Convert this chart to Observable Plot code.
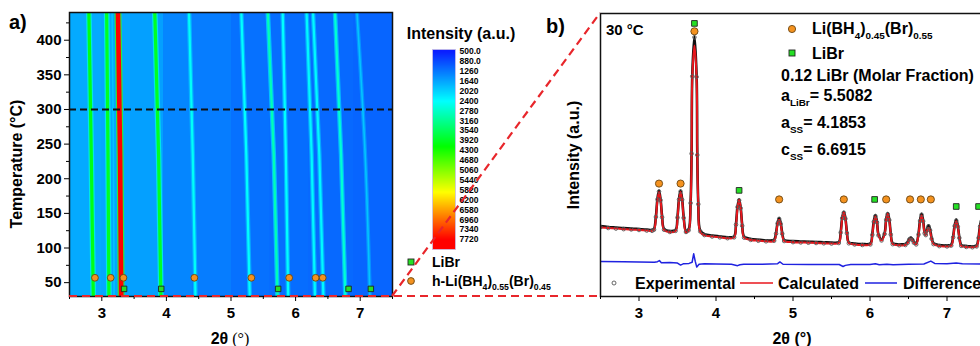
<!DOCTYPE html>
<html><head><meta charset="utf-8">
<script src="https://cdn.jsdelivr.net/npm/d3@7"></script>
<script src="https://cdn.jsdelivr.net/npm/@observablehq/plot@0.6"></script>
<style>
html,body{margin:0;padding:0;background:#fff;overflow:hidden;}
#fig{position:relative;width:980px;height:346px;overflow:hidden;background:#fff;}
#fig > svg{position:absolute;}
</style></head><body><div id="fig"></div><script>
// ================= DATA =================
// ---- panel a : in-situ SR-PXD heat map ----
const aXTicks = [3, 4, 5, 6, 7];
const aXMinor = [2.5, 3.5, 4.5, 5.5, 6.5, 7.5];
const aYTicks = [50, 100, 150, 200, 250, 300, 350, 400];
const aYMinor = [75, 125, 175, 225, 275, 325, 375, 425];
const bgEdges = [2.5, 3.0, 3.45, 3.95, 4.4, 5.0, 5.6, 6.2, 6.9, 7.5];
const bgIntensity = [1680, 1650, 1600, 1380, 1300, 1200, 1170, 1130, 1100];
const streakTemps = [30, 235, 440];
const streakPositions = [
  [2.868, 2.837, 2.80],
  [3.11, 3.096, 3.075],
  [3.19, 3.18, 3.16],
  [3.30, 3.283, 3.25],
  [3.915, 3.879, 3.82],
  [4.45, 4.408, 4.35],
  [5.29, 5.237, 5.16],
  [5.72, 5.662, 5.57],
  [5.885, 5.849, 5.80],
  [6.30, 6.248, 6.17],
  [6.43, 6.367, 6.27],
  [6.77, 6.704, 6.61],
  [7.15, 7.077, 6.95]
];
const streakIntensity = [4000, 3900, 1900, 7720, 3900, 2450, 2400, 2900, 2400, 2350, 2350, 2700, 1900];
const transitionTemp = 300;
const aSSPeaks = [2.894, 3.138, 3.335, 4.433, 5.315, 5.90, 6.31, 6.42];
const aSSTemp = 57;
const aLiBrPeaks = [3.345, 3.92, 5.73, 6.82, 7.165];
const aLiBrTemp = 41;
// ---- colour bar ----
const cbTicks = [500, 880, 1260, 1640, 2020, 2400, 2780, 3160, 3540, 3920, 4300, 4680, 5060, 5440, 5820, 6200, 6580, 6960, 7340, 7720];
const cbStops = [500, 2400, 4150, 5900, 7720];
const cbColors = ["#0a1eff", "#00ffff", "#00ff00", "#ffff00", "#ff0000"];
// ---- panel b : Rietveld refinement at 30 °C ----
const bXTicks = [3, 4, 5, 6, 7];
const bXMinor = [2.5, 3.5, 4.5, 5.5, 6.5, 7.5];
const bTheta = [2.5, 2.6, 2.7, 2.8, 2.9, 3.0, 3.1, 3.17,
 3.195, 3.22, 3.24, 3.26, 3.28, 3.30, 3.325, 3.40,
 3.475, 3.50, 3.52, 3.54, 3.56, 3.58, 3.61,
 3.645, 3.67, 3.683, 3.692, 3.72, 3.748, 3.757, 3.77, 3.795,
 3.85, 3.95, 4.05, 4.15,
 4.235, 4.26, 4.28, 4.30, 4.32, 4.34, 4.365,
 4.45, 4.55, 4.65,
 4.755, 4.78, 4.80, 4.82, 4.84, 4.86, 4.885,
 5.0, 5.1, 5.2, 5.3, 5.4, 5.5,
 5.595, 5.62, 5.64, 5.66, 5.68, 5.70, 5.725,
 5.8, 5.9,
 6.005, 6.03, 6.05, 6.07, 6.09, 6.11, 6.15,
 6.19, 6.21, 6.23, 6.25, 6.27, 6.295,
 6.38, 6.46,
 6.49, 6.51, 6.53, 6.55, 6.57, 6.6,
 6.63, 6.65, 6.67, 6.69, 6.71, 6.725,
 6.74, 6.76, 6.78, 6.80, 6.825,
 6.9, 7.0,
 7.055, 7.08, 7.10, 7.12, 7.14, 7.16, 7.185,
 7.25, 7.33,
 7.385, 7.41, 7.43, 7.45, 7.47, 7.49, 7.5];
const bCalc = [244, 242, 240, 238, 236, 235, 233, 232,
 235, 279, 341, 369, 341, 279, 235, 227,
 231, 277, 341, 369, 341, 277, 226,
 233, 329, 502, 773, 887, 773, 502, 329, 228,
 216, 212, 209, 206,
 208, 252, 314, 342, 314, 252, 208,
 200, 197, 195,
 196, 221, 256, 271, 256, 221, 196,
 192, 191, 190, 189, 188, 187,
 189, 225, 276, 298, 276, 225, 189,
 184, 182,
 184, 217, 263, 283, 263, 217, 198,
 220, 270, 292, 270, 220, 185,
 181, 182,
 190, 200, 204, 200, 190, 184,
 218, 265, 286, 265, 222, 216,
 232, 243, 232, 203, 185,
 178, 177,
 179, 208, 248, 266, 248, 208, 179,
 175, 174,
 177, 206, 247, 265, 247, 206, 190];
const bExp = [245, 242, 240, 238, 237, 235, 233, 232,
 236, 281, 343, 371, 340, 280, 236, 228,
 232, 279, 343, 371, 342, 278, 228,
 234, 330, 505, 778, 916, 776, 500, 326, 230,
 217, 212, 209, 206,
 209, 254, 316, 340, 312, 250, 208,
 200, 197, 195,
 197, 222, 258, 274, 257, 222, 196,
 192, 191, 190, 189, 188, 187,
 189, 226, 277, 296, 275, 224, 188,
 184, 182,
 184, 218, 264, 284, 262, 216, 198,
 221, 271, 291, 270, 219, 185,
 181, 182,
 190, 201, 205, 200, 190, 184,
 219, 267, 289, 266, 223, 217,
 234, 248, 234, 204, 185,
 178, 177,
 180, 209, 249, 268, 247, 207, 179,
 175, 174,
 177, 207, 248, 266, 248, 206, 190];
const diffTheta = [2.5, 2.8, 3.0, 3.2, 3.24, 3.265, 3.29, 3.4, 3.5, 3.54, 3.58, 3.65, 3.69, 3.71, 3.73, 3.75, 3.78, 3.85, 4.0, 4.2, 4.28, 4.31, 4.36, 4.6, 4.8, 4.83, 4.87, 5.2, 5.6, 5.65, 5.68, 5.75, 6.0, 6.07, 6.12, 6.22, 6.3, 6.5, 6.7, 6.79, 6.84, 7.0, 7.12, 7.2, 7.5];
const diffValue = [124, 123, 122, 121, 123, 127, 119, 120, 118, 111, 116, 117, 121, 151, 125, 104, 114, 116, 115, 114, 109, 112, 114, 114, 116, 122, 114, 113, 113, 106, 110, 113, 113, 116, 112, 114, 112, 114, 115, 125, 117, 116, 118, 116, 115];
const bSSPeaks = [3.26, 3.54, 3.72, 4.82, 5.66, 6.21, 6.52, 6.66, 6.79];
const bSSLevel = [399, 399, 937, 343, 343, 343, 343, 343, 343];
const bLiBrPeaks = [3.72, 4.30, 6.06, 7.12, 7.41];
const bLiBrLevel = [965, 375, 343, 318, 318];

// ================= RENDER =================
const SANS = '"Liberation Sans", Arial, Helvetica, sans-serif';
const SERIF = '"Liberation Serif", "Times New Roman", serif';
const ORANGE = "#f4921f", GREEN = "#25e025", RED = "#e8262b";
const fig = d3.select("#fig");
const baseStyle = {fontFamily: SANS, fontWeight: "bold", fontSize: "15px", color: "#000", background: "transparent", overflow: "visible"};
const colorScale = {type: "linear", domain: cbStops, range: cbColors, interpolate: "rgb", clamp: true};

function addText(svg, x, y, parts, o = {}) {
  const size = o.size || 16;
  const t = svg.append("text")
    .attr("font-family", o.family || SANS).attr("font-weight", o.weight || "bold")
    .attr("font-size", size).attr("text-anchor", o.anchor || "start").attr("fill", "#000");
  if (o.rotate) t.attr("transform", `translate(${x},${y}) rotate(-90)`);
  else t.attr("x", x).attr("y", y);
  let prevSub = false;
  for (const p of parts) {
    const [txt, sub, extra] = Array.isArray(p) ? p : [p, false, {}];
    const s = t.append("tspan").text(txt);
    if (sub && !prevSub) s.attr("dy", size * 0.32);
    if (!sub && prevSub) s.attr("dy", -size * 0.32);
    if (sub) s.attr("font-size", size * 0.62);
    if (extra && extra.family) s.attr("font-family", extra.family);
    if (extra && extra.weight) s.attr("font-weight", extra.weight);
    if (extra && extra.size) s.attr("font-size", extra.size);
    prevSub = !!sub;
  }
  return t;
}

// ---- panel a ----
const bgRows = bgIntensity.map((v, i) => ({x1: bgEdges[i], x2: bgEdges[i + 1], I: v}));
const streakMarks = streakPositions.flatMap((pos, i) => {
  const I = streakIntensity[i];
  const rows = pos.map((th, j) => ({theta: th, T: streakTemps[j], I}));
  const w = I >= 7000 ? 4.6 : I >= 3500 ? 3.2 : I >= 2000 ? 2.2 : 1.6;
  return [
    Plot.line(rows, {x: "theta", y: "T", stroke: d => (d.I + 1350) / 2, strokeWidth: w + 2.4, curve: "natural", clip: true, strokeOpacity: 0.75}),
    Plot.line(rows, {x: "theta", y: "T", stroke: "I", strokeWidth: w, curve: "natural", clip: true})
  ];
});
const plotA = Plot.plot({
  width: 400, height: 346, marginLeft: 69, marginRight: 8, marginTop: 12, marginBottom: 50,
  style: baseStyle,
  x: {domain: [2.5, 7.5], label: null},
  y: {domain: [30, 440], label: null},
  color: colorScale,
  marks: [
    Plot.rect(bgRows, {x1: "x1", x2: "x2", fill: "I", shapeRendering: "crispEdges"}),
    ...streakMarks,
    Plot.ruleY([transitionTemp], {stroke: "#111", strokeWidth: 2, strokeDasharray: "7,4"}),
    Plot.dot(aSSPeaks, {x: d => d, y: () => aSSTemp, r: 3.4, fill: ORANGE, stroke: "#6a4512", strokeWidth: 0.9}),
    Plot.dot(aLiBrPeaks, {x: d => d, y: () => aLiBrTemp, symbol: "square", r: 3.1, fill: GREEN, stroke: "#222", strokeWidth: 0.9}),
    Plot.frame({stroke: "#111", strokeWidth: 1.5}),
    Plot.axisX(aXTicks, {tickSize: 5, tickPadding: 6, label: null}),
    Plot.axisX(aXMinor, {tickSize: 3, tickFormat: () => "", label: null}),
    Plot.axisY(aYTicks, {tickSize: 5, tickPadding: 3, label: null}),
    Plot.axisY(aYMinor, {tickSize: 3, tickFormat: () => "", label: null})
  ]
});
const sA = d3.select(plotA);
addText(sA, 9, 29, ["a)"], {size: 20});
addText(sA, 22, 164, ["Temperature (°C)"], {size: 16, anchor: "middle", rotate: true});
addText(sA, 230, 344, ["2θ", [" (°)", false, {family: SERIF, weight: "normal", size: 16}]], {size: 16, anchor: "middle"});
fig.append(() => plotA).style("left", "0px").style("top", "0px");

// ---- colour bar ----
const cbMarks = [];
if (typeof Plot.raster === "function") {
  cbMarks.push(Plot.raster({fill: (x, y) => y, x1: 0, x2: 1, y1: 420, y2: 8100, pixelSize: 1}));
} else {
  cbMarks.push(Plot.rect(cbTicks, {x1: 0, x2: 1, y1: d => d - 190, y2: d => d + 190, fill: d => d}));
}
const plotC = Plot.plot({
  width: 60, height: 215, marginLeft: 7, marginRight: 30, marginTop: 9, marginBottom: 6,
  style: {...baseStyle, fontSize: "8.5px"},
  x: {domain: [0, 1], axis: null},
  y: {domain: [420, 8100], reverse: true, label: null},
  color: colorScale,
  marks: [
    ...cbMarks,
    Plot.frame({stroke: "#c9bfe6", strokeWidth: 0.8}),
    Plot.axisY(cbTicks, {anchor: "right", tickSize: 0, tickPadding: 4, label: null, tickFormat: d => d < 1000 ? d.toFixed(1) : String(d)})
  ]
});
fig.append(() => plotC).style("left", "425px").style("top", "40px");

// ---- panel b ----
const bRows = bTheta.map((t, i) => ({t, calc: bCalc[i], exp: bExp[i]}));
const diffRows = diffTheta.map((t, i) => ({t, v: diffValue[i]}));
const plotB = Plot.plot({
  width: 460, height: 346, marginLeft: 60, marginRight: 15, marginTop: 13, marginBottom: 50,
  style: baseStyle,
  x: {domain: [2.5, 7.5], label: null},
  y: {domain: [0, 1000], axis: null},
  marks: [
    Plot.line(bRows, {x: "t", y: "exp", stroke: "#111", strokeWidth: 2.6, dy: -1, curve: "catmull-rom", clip: true}),
    Plot.line(bRows, {x: "t", y: "calc", stroke: "#e8161c", strokeWidth: 2, curve: "catmull-rom", clip: true}),
    Plot.dot(bRows, {x: "t", y: "exp", r: 1.8, stroke: "#5a5a5a", strokeWidth: 0.9, fill: "none", clip: true}),
    Plot.line(diffRows, {x: "t", y: "v", stroke: "#1f22e0", strokeWidth: 1.5, clip: true}),
    Plot.dot(bSSPeaks, {x: d => d, y: (d, i) => bSSLevel[i], r: 3.6, fill: ORANGE, stroke: "#6a4512", strokeWidth: 0.9}),
    Plot.dot(bLiBrPeaks, {x: d => d, y: (d, i) => bLiBrLevel[i], symbol: "square", r: 3.2, fill: GREEN, stroke: "#222", strokeWidth: 0.9}),
    Plot.frame({stroke: "#111", strokeWidth: 1.5}),
    Plot.axisX(bXTicks, {tickSize: 5, tickPadding: 6, label: null}),
    Plot.axisX(bXMinor, {tickSize: 3, tickFormat: () => "", label: null})
  ]
});
const sB = d3.select(plotB);
addText(sB, 6, 33, ["b)"], {size: 20});
addText(sB, 39, 155, ["Intensity (a.u.)"], {size: 16, anchor: "middle", rotate: true});
addText(sB, 252, 344, ["2θ (°)"], {size: 16, anchor: "middle"});
addText(sB, 66, 35, ["30 °C"], {size: 15});
sB.append("circle").attr("cx", 252).attr("cy", 29).attr("r", 3.6).attr("fill", ORANGE).attr("stroke", "#6a4512").attr("stroke-width", 0.9);
addText(sB, 272, 34, ["Li(BH", ["4", true], ")", ["0.45", true], "(Br)", ["0.55", true]], {size: 16});
sB.append("rect").attr("x", 249).attr("y", 50).attr("width", 6).attr("height", 6).attr("fill", GREEN).attr("stroke", "#222").attr("stroke-width", 0.9);
addText(sB, 272, 59, ["LiBr"], {size: 16});
addText(sB, 241, 81, ["0.12 LiBr (Molar Fraction)"], {size: 16});
addText(sB, 241, 101, ["a", ["LiBr", true], "= 5.5082"], {size: 16});
addText(sB, 241, 128, ["a", ["SS", true], "= 4.1853"], {size: 16});
addText(sB, 241, 155, ["c", ["SS", true], "= 6.6915"], {size: 16});
sB.append("circle").attr("cx", 74).attr("cy", 283).attr("r", 2).attr("fill", "none").attr("stroke", "#555").attr("stroke-width", 0.9);
addText(sB, 95, 289, ["Experimental"], {size: 16});
sB.append("line").attr("x1", 200).attr("x2", 233).attr("y1", 283).attr("y2", 283).attr("stroke", "#e8161c").attr("stroke-width", 1.6);
addText(sB, 238, 289, ["Calculated"], {size: 16});
sB.append("line").attr("x1", 325).attr("x2", 357).attr("y1", 283).attr("y2", 283).attr("stroke", "#1f22e0").attr("stroke-width", 1.5);
addText(sB, 363, 289, ["Difference"], {size: 16});
fig.append(() => plotB).style("left", "540px").style("top", "0px");

// ---- overlay: colour-bar title, phase legend, zoom connectors ----
const ov = fig.append("svg").attr("width", 980).attr("height", 346).style("left", "0px").style("top", "0px").style("overflow", "hidden");
addText(ov, 461, 39, ["Intensity (a.u.)"], {size: 16, anchor: "middle"});
ov.append("rect").attr("x", 408).attr("y", 259).attr("width", 6).attr("height", 6).attr("fill", GREEN).attr("stroke", "#222").attr("stroke-width", 0.9);
addText(ov, 432, 267, ["LiBr"], {size: 14});
ov.append("circle").attr("cx", 411).attr("cy", 281).attr("r", 3.4).attr("fill", ORANGE).attr("stroke", "#6a4512").attr("stroke-width", 0.9);
addText(ov, 432, 286, ["h-Li(BH", ["4", true], ")", ["0.55", true], "(Br)", ["0.45", true]], {size: 14});
const ax = plotA.scale("x"), ay = plotA.scale("y"), bx = plotB.scale("x"), by = plotB.scale("y");
const offB = 540;
const pA0 = [ax.apply(2.5), ay.apply(30)], pA1 = [ax.apply(7.5), ay.apply(30)];
const pB0 = [bx.apply(2.5) + offB, by.apply(0)], pB1 = [bx.apply(2.5) + offB, by.apply(1000)];
ov.append("line").attr("x1", pA0[0]).attr("y1", pA0[1]).attr("x2", pB0[0]).attr("y2", pB0[1])
  .attr("stroke", RED).attr("stroke-width", 2.2).attr("stroke-dasharray", "8,5");
ov.append("line").attr("x1", pA1[0]).attr("y1", pA1[1]).attr("x2", pB1[0]).attr("y2", pB1[1])
  .attr("stroke", RED).attr("stroke-width", 2.2).attr("stroke-dasharray", "8,5");
</script></body></html>
